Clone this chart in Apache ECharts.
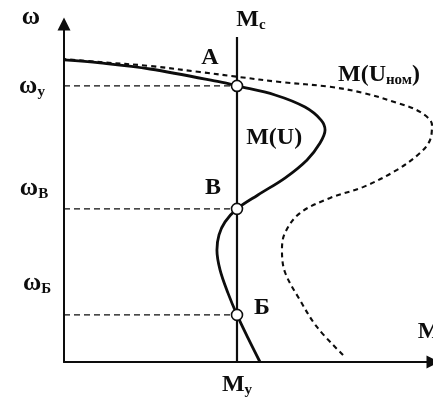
<!DOCTYPE html>
<html>
<head>
<meta charset="utf-8">
<script src="https://cdn.jsdelivr.net/npm/echarts@6/dist/echarts.min.js"></script>
<style>
  html, body { margin: 0; padding: 0; background: #fff; }
  #chart { width: 433px; height: 402px; }
</style>
</head>
<body>
<div id="chart"></div>
<script>
// Torque (M) and speed (ω) in relative units: M_c = 1, ideal no-load speed = 1.
const M_C = 1.0;
const MC_LINE_TOP = 1.076;
const AXIS_MAX_M = 2.133;
const AXIS_MAX_W = 1.119;

// Operating speeds where M(U) crosses the load line M_c: ω_y (A), ω_B (B), ω_Б (Б)
const omegaLevels = [0.914, 0.507, 0.156];
const omegaSubs = ['y', 'B', 'Б'];
const pointNames = ['A', 'B', 'Б'];

// Characteristic at reduced voltage, M(U): [M, ω], ordered by ω
const curveU = [
  [1.133, 0.000], [1.064, 0.079], [1.000, 0.156], [0.948, 0.228], [0.902, 0.305],
  [0.884, 0.371], [0.896, 0.421], [0.931, 0.464], [1.000, 0.507], [1.121, 0.553],
  [1.277, 0.609], [1.405, 0.669], [1.480, 0.725], [1.509, 0.768], [1.486, 0.801],
  [1.393, 0.844], [1.220, 0.884], [1.000, 0.914], [0.902, 0.927], [0.497, 0.970],
  [0.208, 0.990], [0.000, 1.000]
];

// Characteristic at nominal voltage, M(U_ном): [M, ω], ordered by ω
const curveUnom = [
  [1.613, 0.023], [1.462, 0.116], [1.364, 0.205], [1.277, 0.298], [1.260, 0.371],
  [1.277, 0.427], [1.364, 0.493], [1.538, 0.543], [1.728, 0.579], [1.925, 0.636],
  [2.058, 0.692], [2.116, 0.735], [2.127, 0.785], [2.058, 0.828], [1.925, 0.858],
  [1.728, 0.891], [1.538, 0.911], [1.249, 0.927], [1.006, 0.944], [0.786, 0.960],
  [0.497, 0.980], [0.208, 0.993], [0.000, 1.003]
];

// Curve captions placed in data space
const captionU = [1.215, 0.742];
const captionUnom = [1.821, 0.950];

const INK = '#0d0d0d';
const FONT = "'Liberation Serif', 'DejaVu Serif', serif";
const tokenBase = { fontWeight: 'bold', fontFamily: FONT, color: INK, textBorderWidth: 0, textBorderColor: 'transparent' };
const rich = {
  b: Object.assign({ fontSize: 24, lineHeight: 26 }, tokenBase),
  w: Object.assign({ fontSize: 25, lineHeight: 26 }, tokenBase),
  s: Object.assign({ fontSize: 15, lineHeight: 11, verticalAlign: 'bottom' }, tokenBase)
};

function makeLabel(formatter, offset) {
  return {
    show: true, position: 'inside', offset: offset || [0, 0], formatter: formatter,
    rich: rich, color: INK, opacity: 1, textBorderWidth: 0, textBorderColor: 'transparent'
  };
}

function textItem(value, formatter, offset) {
  return { value: value, label: makeLabel(formatter, offset) };
}

const omegaLabelOffsets = [[-32, 1], [-30, -20], [-27, -31]];
const pointLabelOffsets = [[-27, -28], [-24, -21], [25, -7]];

const textData = [
  textItem([0, AXIS_MAX_W], '{w|ω}', [-33, -6]),
  textItem([AXIS_MAX_M, 0], '{b|M}', [-4, -30]),
  textItem([M_C, MC_LINE_TOP], '{b|M}{s|c}', [14, -17]),
  textItem([M_C, 0], '{b|M}{s|y}', [0, 23]),
  textItem(captionU, '{b|M(U)}'),
  textItem(captionUnom, '{b|M(U}{s|ном}{b|)}')
];
omegaLevels.forEach(function (w, i) {
  textData.push(textItem([0, w], '{w|ω}{s|' + omegaSubs[i] + '}', omegaLabelOffsets[i]));
});

const series = [];

// Horizontal dashed guides from the ω axis to the operating points
omegaLevels.forEach(function (w) {
  series.push({
    type: 'line', data: [[0, w], [M_C, w]], symbol: 'none', silent: true,
    lineStyle: { color: INK, width: 1.3, type: [6, 4] }
  });
});

// Load torque line M_c
series.push({
  type: 'line', data: [[M_C, 0], [M_C, MC_LINE_TOP]], symbol: 'none',
  lineStyle: { color: INK, width: 2.2 }
});

series.push({
  name: 'M(Uном)', type: 'line', data: curveUnom, symbol: 'none', smooth: 0.35, clip: false,
  lineStyle: { color: INK, width: 2.1, type: [5, 4] }
});

series.push({
  name: 'M(U)', type: 'line', data: curveU, symbol: 'none', smooth: 0.35, clip: false,
  lineStyle: { color: INK, width: 2.8 }
});

// Operating points A, B, Б
series.push({
  type: 'scatter', symbol: 'circle', symbolSize: 11, z: 5,
  itemStyle: { color: '#fff', borderColor: INK, borderWidth: 1.6, opacity: 1 },
  emphasis: { disabled: true },
  data: omegaLevels.map(function (w, i) {
    return { value: [M_C, w], label: makeLabel('{b|' + pointNames[i] + '}', pointLabelOffsets[i]) };
  })
});

// Axis and curve captions
series.push({
  type: 'scatter', symbolSize: 0, z: 6, silent: true, clip: false,
  itemStyle: { color: INK },
  data: textData
});

const chart = echarts.init(document.getElementById('chart'), null, { renderer: 'canvas' });
chart.setOption({
  animation: false,
  backgroundColor: '#fff',
  grid: { left: 64, right: 0, top: 24, bottom: 40 },
  xAxis: {
    type: 'value', min: 0, max: AXIS_MAX_M,
    axisLine: { show: true, onZero: false, symbol: ['none', 'triangle'], symbolSize: [13, 13], lineStyle: { color: INK, width: 2 } },
    axisTick: { show: false }, axisLabel: { show: false }, splitLine: { show: false }
  },
  yAxis: {
    type: 'value', min: 0, max: AXIS_MAX_W,
    axisLine: { show: true, onZero: false, symbol: ['none', 'triangle'], symbolSize: [13, 13], lineStyle: { color: INK, width: 2 } },
    axisTick: { show: false }, axisLabel: { show: false }, splitLine: { show: false }
  },
  series: series
});
</script>
</body>
</html>
